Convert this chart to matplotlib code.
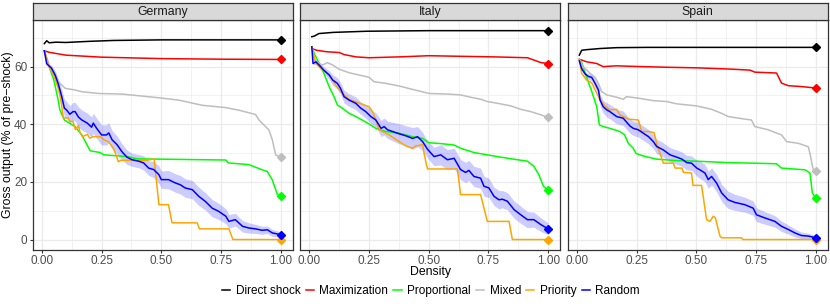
import matplotlib
matplotlib.use("Agg")
import matplotlib.pyplot as plt
from matplotlib.lines import Line2D
from matplotlib.ticker import MultipleLocator

plt.rcParams['font.family'] = ['Liberation Sans', 'DejaVu Sans']

strategies = ["Direct shock", "Maximization", "Proportional", "Mixed", "Priority", "Random"]
colors = ["black", "#FF0000", "#00FF00", "#BEBEBE", "#FFA500", "#0000FF"]
countries = ["Germany", "Italy", "Spain"]

germany = {
    "Direct shock": ([0.01, 0.02, 0.03, 0.06, 0.1, 0.2, 0.3, 0.5, 0.75, 1.0],
                     [68.0, 69.0, 68.3, 68.5, 68.4, 68.8, 69.1, 69.3, 69.3, 69.3]),
    "Maximization": ([0.01, 0.03, 0.1, 0.25, 0.5, 0.75, 1.0],
                     [65.5, 65.0, 64.0, 63.3, 62.8, 62.6, 62.5]),
    "Proportional": ([0.01, 0.03, 0.05, 0.069, 0.075, 0.094, 0.139, 0.167, 0.202, 0.244, 0.26,
                      0.357, 0.4, 0.5, 0.77, 0.78, 0.867, 0.923, 0.944, 0.965, 0.986, 1.0],
                     [65.5, 60, 55.4, 48, 45, 41.5, 39.2, 36.3, 30.8, 30.2, 29.4,
                      28.8, 28.0, 27.9, 27.6, 26.6, 26.0, 24.2, 23.6, 20.7, 15.6, 15.2]),
    "Mixed": ([0.01, 0.041, 0.069, 0.097, 0.139, 0.167, 0.237, 0.335, 0.49, 0.573, 0.671,
               0.769, 0.825, 0.895, 0.909, 0.951, 0.965, 0.979, 1.0],
              [65.5, 58.2, 54.8, 52.5, 51.9, 51.3, 50.7, 50.5, 49.2, 48.4, 46.6,
               45.8, 44.9, 43.4, 41.5, 38, 34.6, 29.4, 28.6]),
    "Priority": ([0.01, 0.03, 0.05, 0.07, 0.08, 0.09, 0.11, 0.118, 0.13, 0.14, 0.153, 0.16,
                  0.17, 0.19, 0.2, 0.215, 0.245, 0.26, 0.28, 0.30, 0.31, 0.32, 0.33, 0.44,
                  0.47, 0.48, 0.49, 0.53, 0.545, 0.65, 0.66, 0.783, 0.80, 1.0],
                 [65.5, 60, 57, 52, 48, 42.2, 42.2, 41, 41, 38.2, 39.5, 37,
                  35.7, 36.5, 35.2, 35.7, 35.7, 34.6, 33.9, 31.6, 29.5, 27, 27.5, 27.5,
                  28, 20, 12.1, 12.1, 5.8, 5.8, 3.7, 3.7, 0, 0]),
    "Random": ([0.01, 0.02, 0.04, 0.056, 0.07, 0.083, 0.094, 0.103, 0.117, 0.13,
                0.139, 0.153, 0.167, 0.19, 0.208, 0.215, 0.23, 0.25, 0.27, 0.28,
                0.294, 0.315, 0.335, 0.356, 0.377, 0.405, 0.426, 0.447, 0.468, 0.49,
                0.50, 0.53, 0.56, 0.58, 0.60, 0.63, 0.657, 0.685, 0.713, 0.74,
                0.77, 0.783, 0.81, 0.84, 0.867, 0.895, 0.923, 0.944, 0.965, 1.0],
               [65.5, 61, 59.5, 57, 53.6, 49.6, 45.6, 45, 43.5, 44.4,
                44.4, 42.5, 41.5, 40.4, 39, 40.4, 38.5, 36.3, 36.3, 37,
                34.6, 32.9, 30.5, 28.6, 27.7, 27.2, 26.6, 24.8, 24.3, 22.5,
                20.8, 20.8, 19.6, 19, 17.9, 17.3, 15, 13.2, 10.9, 9.8,
                8.1, 6.3, 6.9, 4.6, 4.0, 3.7, 3.2, 3.4, 2.3, 1.7]),
}
germany_band = [0, 0.5, 1, 1.5, 2, 2.5, 3, 3, 3, 3.2,
                3.2, 3.5, 3.5, 3.5, 3.5, 3.5, 3.5, 3.5, 3.5, 3.5,
                3.2, 3, 2.8, 2.5, 2.3, 2.3, 2.5, 2.5, 2.8, 3,
                3, 3.2, 3.2, 3.2, 3.2, 3.2, 3.2, 3, 3, 2.8,
                2.6, 2.4, 2.2, 2, 1.8, 1.6, 1.4, 1.3, 1.2, 1.0]

italy = {
    "Direct shock": ([0.01, 0.02, 0.04, 0.1, 0.24, 0.5, 1.0],
                     [70.4, 70.6, 71.5, 71.9, 72.3, 72.5, 72.5]),
    "Maximization": ([0.01, 0.03, 0.07, 0.125, 0.145, 0.195, 0.25, 0.376, 0.5, 0.633, 0.773,
                      0.913, 0.94, 0.97, 1.0],
                     [66.3, 65.7, 65.2, 64.9, 64.2, 63.4, 63.1, 63.4, 63.8, 63.6, 63.4,
                      63.1, 62.3, 61.4, 61.1]),
    "Proportional": ([0.01, 0.02, 0.055, 0.083, 0.103, 0.117, 0.138, 0.166, 0.194, 0.22, 0.25,
                      0.278, 0.32, 0.376, 0.432, 0.474, 0.50, 0.55, 0.606, 0.633, 0.689, 0.745,
                      0.801, 0.871, 0.913, 0.94, 0.961, 0.98, 1.0],
                     [66.9, 64.6, 58.8, 53, 49.6, 46.7, 45.6, 43.8, 42.7, 41.5, 40.1,
                      38.6, 37.5, 36.9, 35.7, 35.1, 33.6, 33.3, 32.8, 31.7, 30.2, 29.4,
                      28.6, 27.7, 27.2, 25.4, 22.5, 18.5, 17.1]),
    "Mixed": ([0.01, 0.02, 0.04, 0.055, 0.075, 0.097, 0.125, 0.166, 0.208, 0.25, 0.27, 0.32,
               0.376, 0.432, 0.502, 0.578, 0.633, 0.675, 0.717, 0.745, 0.787, 0.843, 0.885,
               0.927, 0.969, 1.0],
              [66.9, 62.3, 61.1, 60.6, 61.4, 60.6, 59.1, 57.9, 57.1, 56.3, 54.8, 54.2,
               53.3, 52.1, 50.7, 50.5, 50.2, 49.4, 48.7, 47.9, 47.3, 46.4, 45.2,
               44.4, 43.3, 42.4]),
    "Priority": ([0.01, 0.027, 0.05, 0.083, 0.11, 0.138, 0.166, 0.19, 0.23, 0.25, 0.264,
                  0.278, 0.292, 0.334, 0.376, 0.404, 0.432, 0.446, 0.474, 0.48, 0.49, 0.495,
                  0.62, 0.633, 0.717, 0.745, 0.836, 0.85, 1.0],
                 [66.9, 61.1, 59.3, 57.1, 53.6, 50.7, 48.7, 47.9, 46.7, 46.1, 44.4,
                  41.5, 38.1, 36.3, 34, 32.5, 31.7, 32.5, 32.9, 30, 26, 24.5,
                  24.5, 15.6, 15.6, 6.3, 6.3, 0, 0]),
    "Random": ([0.01, 0.015, 0.027, 0.04, 0.06, 0.083, 0.097, 0.117, 0.13, 0.145,
                0.166, 0.194, 0.215, 0.236, 0.257, 0.278, 0.3, 0.313, 0.327, 0.348,
                0.376, 0.404, 0.432, 0.453, 0.474, 0.494, 0.522, 0.55, 0.578, 0.606,
                0.633, 0.654, 0.668, 0.689, 0.717, 0.731, 0.752, 0.773, 0.794, 0.808,
                0.829, 0.857, 0.885, 0.913, 0.94, 0.969, 1.0],
               [66.9, 61.1, 61.7, 60.6, 58.8, 57.1, 55.4, 54.2, 52.5, 49.6,
                48.4, 47.3, 45.6, 44.4, 42.7, 41.5, 38.6, 39.2, 38.1, 37.5,
                36.7, 36, 35.1, 35.7, 34, 31.4, 28.8, 29.4, 27.7, 28.2,
                24.3, 23.3, 24, 21.9, 21.3, 18.5, 17.9, 15, 13.8, 14,
                13.3, 10.4, 8.6, 6.9, 6.9, 5.2, 3.7]),
}
italy_band = [0, 0.5, 0.8, 1, 1.2, 1.5, 1.8, 2, 2, 2.2,
              2.2, 2.2, 2.2, 2.3, 2.4, 2.5, 2.8, 3, 3, 3.2,
              3.5, 3.5, 3.8, 3.5, 3.2, 3, 3.2, 3.5, 3.5, 3.5,
              3.5, 3.5, 3.5, 3.5, 3.5, 3.5, 3.3, 3.2, 3.2, 3,
              3, 3, 3, 2.8, 2.6, 2.4, 2.0]

spain = {
    "Direct shock": ([0.01, 0.02, 0.04, 0.097, 0.166, 0.3, 0.5, 1.0],
                     [64, 65.7, 65.9, 66.3, 66.6, 66.7, 66.7, 66.7]),
    "Maximization": ([0.01, 0.02, 0.04, 0.083, 0.11, 0.125, 0.166, 0.236, 0.376, 0.5, 0.633,
                      0.725, 0.745, 0.836, 0.857, 0.885, 0.94, 1.0],
                     [62.5, 62.3, 61.7, 61.1, 60, 60.1, 60.3, 60.1, 59.8, 59.6, 59.2,
                      58.8, 58.1, 57.8, 54.3, 53.4, 53.1, 52.6]),
    "Proportional": ([0.01, 0.02, 0.04, 0.062, 0.083, 0.094, 0.11, 0.138, 0.18, 0.2, 0.215,
                      0.236, 0.247, 0.278, 0.334, 0.418, 0.5, 0.633, 0.745, 0.836, 0.857,
                      0.955, 0.976, 0.986, 1.0],
                     [62.5, 61.5, 56.5, 51.4, 46.1, 39.8, 39.2, 38.6, 37.5, 36.3, 33.4,
                      31.7, 29.9, 29, 27.9, 27.4, 27.2, 26.7, 26.5, 26.3, 24.8,
                      24.2, 23.1, 16.2, 14.4]),
    "Mixed": ([0.01, 0.027, 0.055, 0.076, 0.09, 0.103, 0.125, 0.166, 0.194, 0.208, 0.264,
               0.32, 0.376, 0.418, 0.5, 0.564, 0.606, 0.633, 0.703, 0.731, 0.745, 0.801,
               0.857, 0.878, 0.927, 0.969, 0.976, 0.99, 1.0],
              [62.5, 60, 57.7, 56.3, 54.2, 51.4, 50.2, 49.4, 48.7, 49.6, 49,
               48.2, 47.9, 47.1, 46.4, 45.2, 43.8, 42.7, 41.8, 41.5, 39.2, 38.1,
               36.3, 34, 33.4, 32.2, 29.9, 24.1, 23.8]),
    "Priority": ([0.01, 0.02, 0.04, 0.062, 0.076, 0.097, 0.117, 0.138, 0.166, 0.18,
                  0.215, 0.257, 0.271, 0.3, 0.323, 0.334, 0.348, 0.362, 0.404, 0.411,
                  0.44, 0.446, 0.48, 0.486, 0.522, 0.543, 0.557, 0.571, 0.58, 0.599,
                  0.606, 0.689, 0.696, 1.0],
                 [62.5, 57.7, 55.4, 54.4, 52, 48.4, 46.4, 45, 45.2, 43.3,
                  41.8, 41.5, 37.5, 37.5, 37.1, 33.4, 29.9, 26.5, 26.5, 24.8,
                  24.8, 23.3, 23.1, 18.8, 18.8, 6.9, 6.3, 8.1, 7.5, 1.2,
                  0.6, 0.6, 0, 0]),
    "Random": ([0.01, 0.02, 0.034, 0.048, 0.062, 0.076, 0.09, 0.097, 0.11, 0.125,
                0.138, 0.166, 0.194, 0.222, 0.236, 0.257, 0.278, 0.3, 0.32, 0.334,
                0.362, 0.39, 0.418, 0.44, 0.46, 0.48, 0.502, 0.515, 0.536, 0.55,
                0.564, 0.585, 0.606, 0.633, 0.661, 0.703, 0.738, 0.752, 0.787, 0.829,
                0.857, 0.885, 0.913, 0.94, 0.969, 1.0],
               [62, 59.3, 57.5, 56.6, 56.3, 54.2, 51.9, 48.4, 46.1, 45,
                44.4, 42.7, 42.1, 39.4, 38.6, 38.1, 36.9, 35.7, 34, 32.3,
                31.1, 29.4, 28.6, 27.9, 26.7, 26.5, 24.8, 24.2, 23.1, 20.8,
                21.9, 19.6, 16.2, 13.8, 12.9, 12.1, 10.9, 8.6, 7.5, 6.3,
                4.6, 3.5, 2.3, 1.4, 1.2, 0.6]),
}
spain_band = [0, 0.5, 0.8, 1, 1.2, 1.5, 1.8, 2, 2.2, 2.5,
              2.5, 2.5, 2.5, 2.5, 2.5, 2.5, 2.5, 2.5, 2.5, 2.5,
              2.5, 2.5, 2.5, 2.5, 2.5, 2.5, 2.8, 3, 3, 3,
              3, 3, 3, 3, 2.8, 2.6, 2.5, 2.4, 2.2, 2,
              1.8, 1.6, 1.4, 1.2, 1, 0.8]

data = [germany, italy, spain]
bands = [germany_band, italy_band, spain_band]

W, H = 830, 306
fig = plt.figure(figsize=(W / 100, H / 100), dpi=100)

lefts = [32.5, 300, 567.5]
pw = 260
grey20 = "#333333"
grey30 = "#4D4D4D"

for i, country in enumerate(countries):
    ax = fig.add_axes([lefts[i] / W, 1 - 250 / H, pw / W, 230 / H])
    ax.set_xlim(-0.0395, 1.0495)
    ax.set_ylim(-3.63, 76.2)
    ax.xaxis.set_major_locator(MultipleLocator(0.25))
    ax.xaxis.set_minor_locator(MultipleLocator(0.125))
    ax.yaxis.set_major_locator(MultipleLocator(20))
    ax.yaxis.set_minor_locator(MultipleLocator(10))
    ax.grid(which="major", color="#EBEBEB", linewidth=0.9)
    ax.grid(which="minor", color="#EBEBEB", linewidth=0.45)
    ax.set_axisbelow(True)
    for sp in ax.spines.values():
        sp.set_color(grey20)
        sp.set_linewidth(0.9)
    ax.tick_params(which="major", length=2.2, width=0.8, color=grey20,
                   labelcolor=grey30, labelsize=8.5, pad=1.5)
    ax.tick_params(which="minor", length=0)
    ax.set_xticks([0, 0.25, 0.5, 0.75, 1.0])
    ax.set_xticklabels(["0.00", "0.25", "0.50", "0.75", "1.00"])
    if i > 0:
        ax.tick_params(axis="y", labelleft=False, length=0)

    d = data[i]
    rx, ry = d["Random"]
    lo = [y - b for y, b in zip(ry, bands[i])]
    hi = [y + b for y, b in zip(ry, bands[i])]
    ax.fill_between(rx, lo, hi, color="#0000FF", alpha=0.2, linewidth=0)
    for name, col in zip(strategies, colors):
        xs, ys = d[name]
        ax.plot(xs, ys, color=col, linewidth=1.1, solid_joinstyle="round")
        ax.plot(xs[-1], ys[-1], marker="D", markersize=4.2, color=col, linestyle="none")

    sax = fig.add_axes([lefts[i] / W, 1 - 20 / H, pw / W, 17 / H])
    sax.set_facecolor("#D9D9D9")
    sax.set_xticks([])
    sax.set_yticks([])
    for sp in sax.spines.values():
        sp.set_color(grey20)
        sp.set_linewidth(0.9)
    sax.text(0.5, 0.45, country, ha="center", va="center", fontsize=8.8,
             color="#1A1A1A", transform=sax.transAxes)

fig.text(430 / W, 1 - 266 / H, "Density", ha="center", va="top", fontsize=8.8)
fig.text(8 / W, 1 - 135 / H, "Gross output (% of pre\u2212shock)", rotation=90,
         ha="center", va="center", fontsize=8.8)

handles = [Line2D([], [], color=c, linewidth=1.1) for c in colors]
fig.legend(handles, strategies, loc="center", bbox_to_anchor=(431 / W, 1 - 291 / H),
           ncol=6, frameon=False, fontsize=8.5, handlelength=0.7, handletextpad=0.45,
           columnspacing=0.45, borderaxespad=0)

fig.savefig("out.png", dpi=100)
